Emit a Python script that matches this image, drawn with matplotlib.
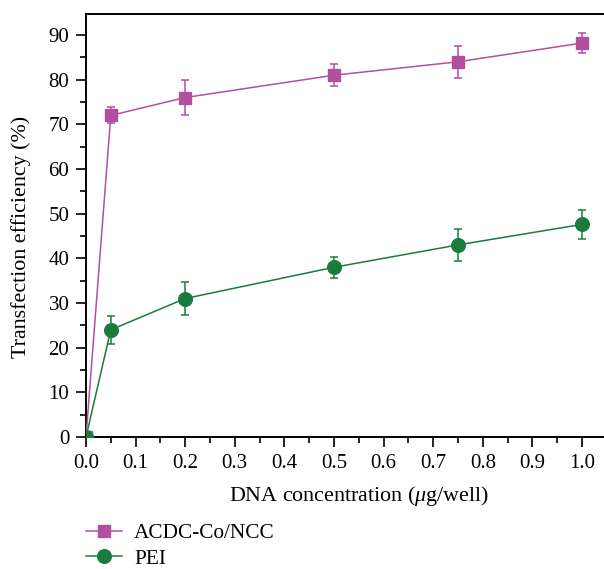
import matplotlib
matplotlib.use('Agg')
import matplotlib.pyplot as plt
from matplotlib.lines import Line2D
from matplotlib.ticker import MultipleLocator

# data
dna_conc = [0.0, 0.05, 0.2, 0.5, 0.75, 1.0]
acdc_eff = [0, 72, 76, 81, 84, 88.2]
acdc_err = [0, 1.8, 4.0, 2.4, 3.6, 2.3]
pei_eff = [0, 24, 31, 38, 43, 47.6]
pei_err = [0, 3.1, 3.7, 2.4, 3.6, 3.2]

series_names = ['ACDC-Co/NCC', 'PEI']
x_ticks = [0.0, 0.1, 0.2, 0.3, 0.4, 0.5, 0.6, 0.7, 0.8, 0.9, 1.0]

plt.rcParams['font.family'] = ['Liberation Serif', 'DejaVu Serif']
plt.rcParams['mathtext.fontset'] = 'custom'
plt.rcParams['mathtext.it'] = 'Liberation Serif:italic'
plt.rcParams['mathtext.rm'] = 'Liberation Serif'

magenta = '#b24f9f'
green = '#1a7b3f'

fig = plt.figure(figsize=(6.04, 5.69), dpi=100)
ax = fig.add_axes([86 / 604, 1 - 437 / 569, 1.1 * 496 / 604, (437 - 14) / 569])

ax.errorbar(dna_conc, acdc_eff, yerr=acdc_err, color=magenta, lw=1.1,
            marker='s', ms=8.5, mec=magenta, mfc=magenta,
            capsize=3.2, elinewidth=1.1, capthick=1.1, zorder=3)
ax.errorbar(dna_conc, pei_eff, yerr=pei_err, color=green, lw=1.1,
            marker='o', ms=9.8, mec=green, mfc=green,
            capsize=3.2, elinewidth=1.1, capthick=1.1, zorder=4)

ax.set_xlim(0, 1.1)
ax.set_ylim(0, 94.7)
ax.xaxis.set_minor_locator(MultipleLocator(0.05))
ax.yaxis.set_major_locator(MultipleLocator(10))
ax.yaxis.set_minor_locator(MultipleLocator(5))
ax.set_xticks(x_ticks)
ax.set_xticklabels([f'{t:.1f}' for t in x_ticks])

ax.tick_params(which='major', direction='out', length=7, width=1.2, labelsize=15, pad=5)
ax.tick_params(which='minor', direction='out', length=4, width=1.2)
ax.tick_params(top=False, right=False, which='both')
for s in ax.spines.values():
    s.set_linewidth(1.4)
ax.spines['right'].set_visible(False)

ax.set_xlabel(r'DNA concentration ($\mu$g/well)', fontsize=15.8, labelpad=8)
ax.set_ylabel('Transfection efficiency (%)', fontsize=15.8)
ax.yaxis.set_label_coords(-0.101, 0.473)

handles = [
    Line2D([], [], color=magenta, lw=1.1, marker='s', ms=8.5),
    Line2D([], [], color=green, lw=1.1, marker='o', ms=9.8),
]
fig.legend(handles, series_names, loc='upper left', bbox_to_anchor=(0.125, 0.099),
           frameon=False, fontsize=15.3, handlelength=1.7, labelspacing=0.26,
           borderpad=0, handletextpad=0.55)

fig.savefig('out.png', dpi=100)
